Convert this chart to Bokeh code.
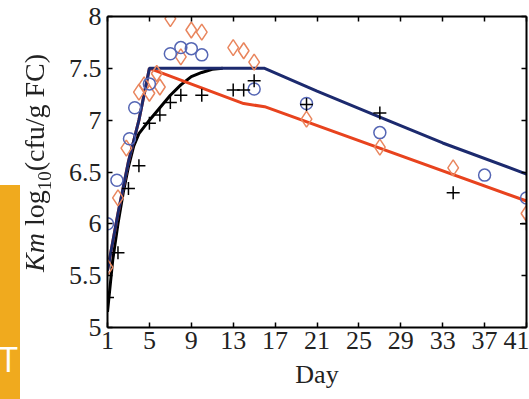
from bokeh.plotting import figure
from bokeh.models import LinearAxis, FixedTicker, Range1d, Div
from bokeh.layouts import row
from bokeh.embed import file_html
from bokeh.resources import INLINE

# ---- data ----
x_ticks = [1, 5, 9, 13, 17, 21, 25, 29, 33, 37, 41]
x_tick_labels = ["1", "5", "9", "13", "17", "21", "25", "29", "33", "37", "41"]
y_ticks = [5, 5.5, 6, 6.5, 7, 7.5, 8]
y_tick_labels = ["5", "5.5", "6", "6.5", "7", "7.5", "8"]

# observed: red diamonds
red_obs_day = [1, 2, 2.8, 4, 4.5, 5, 5.7, 6, 7, 8, 9, 10, 13, 14, 15, 20, 27, 34, 41]
red_obs_val = [5.58, 6.25, 6.73, 7.27, 7.34, 7.26, 7.45, 7.32, 7.98, 7.61, 7.87, 7.85,
               7.70, 7.67, 7.56, 7.01, 6.74, 6.54, 6.10]
# observed: blue circles
blue_obs_day = [1, 1.9, 3.1, 3.6, 5, 7, 8, 9, 10, 15, 20, 27, 37, 41]
blue_obs_val = [6.00, 6.42, 6.82, 7.12, 7.35, 7.64, 7.70, 7.69, 7.63, 7.30, 7.16, 6.88,
                6.47, 6.25]
# observed: black plus
black_obs_day = [1, 2, 3, 4, 5, 6, 7, 8, 10, 13, 14, 15, 20, 27, 34, 41]
black_obs_val = [5.29, 5.72, 6.34, 6.56, 6.97, 7.05, 7.17, 7.24, 7.24, 7.29, 7.29, 7.38,
                 7.15, 7.07, 6.30, 6.00]

# model curves
navy_day = [1, 2, 3, 4, 5, 16, 21, 27, 33, 41]
navy_val = [5.55, 6.10, 6.60, 7.00, 7.50, 7.50, 7.28, 7.03, 6.78, 6.48]
red_day = [1, 2, 3, 4, 5, 14, 16, 41]
red_val = [5.55, 6.10, 6.60, 7.00, 7.50, 7.16, 7.13, 6.22]
black_day = [1, 1.5, 2, 2.5, 3, 3.5, 4, 5, 6, 7, 8, 9, 10, 11, 12]
black_val = [5.15, 5.65, 6.00, 6.30, 6.55, 6.75, 6.87, 7.00, 7.12, 7.24, 7.34, 7.42,
             7.46, 7.49, 7.50]

SERIF = "Liberation Serif"
NAVY = "#1c2a6e"
RED = "#e8431e"
RED_MK = "#e9865e"
BLUE_MK = "#5566b4"
TXT = "#222222"

p = figure(width=509, height=399, x_range=Range1d(1, 41), y_range=Range1d(5, 8),
           output_backend="svg", toolbar_location=None,
           min_border_left=87, min_border_right=3, min_border_top=16, min_border_bottom=72)
p.grid.visible = False
p.outline_line_color = None
p.background_fill_color = "white"
p.border_fill_color = None

def style_axis(ax, show_labels):
    ax.axis_line_width = 2
    ax.axis_line_color = "black"
    ax.major_tick_in = 5
    ax.major_tick_out = 0
    ax.major_tick_line_width = 1.5
    ax.minor_tick_line_color = None
    ax.major_label_text_font = SERIF
    ax.major_label_text_color = TXT
    if not show_labels:
        ax.major_label_text_font_size = "0px"
        ax.major_label_text_color = None
        ax.major_label_standoff = 0

p.xaxis.ticker = FixedTicker(ticks=x_ticks)
p.xaxis.major_label_overrides = dict(zip(x_ticks, x_tick_labels))
p.yaxis.ticker = FixedTicker(ticks=y_ticks)
p.yaxis.major_label_overrides = dict(zip(y_ticks, y_tick_labels))
style_axis(p.xaxis[0], True)
style_axis(p.yaxis[0], True)
p.xaxis.major_label_text_font_size = "26px"
p.yaxis.major_label_text_font_size = "26px"
p.xaxis.major_label_standoff = 4
p.yaxis.major_label_standoff = 6
p.xaxis.axis_label = "Day"
p.xaxis.axis_label_text_font = SERIF
p.xaxis.axis_label_text_font_style = "normal"
p.xaxis.axis_label_text_font_size = "26px"
p.xaxis.axis_label_text_color = TXT
p.xaxis.axis_label_standoff = 8

top = LinearAxis(ticker=FixedTicker(ticks=x_ticks))
style_axis(top, False)
p.add_layout(top, "above")
right = LinearAxis(ticker=FixedTicker(ticks=y_ticks))
style_axis(right, False)
p.add_layout(right, "right")

# model lines
p.line(black_day, black_val, line_width=3, color="black")
p.line(red_day, red_val, line_width=3, color=RED)
p.line(navy_day, navy_val, line_width=3, color=NAVY)

# observations
p.scatter(red_obs_day, red_obs_val, marker="diamond", size=16, fill_color=None,
          line_color=RED_MK, line_width=1.5)
p.scatter(blue_obs_day, blue_obs_val, marker="circle", size=12, fill_color=None,
          line_color=BLUE_MK, line_width=1.5)
p.scatter(black_obs_day, black_obs_val, marker="cross", size=13, color="black",
          line_width=1.5)

# left strip (orange bar with "T") and the rotated y-axis title
ylabel_html = (
    '<div style="position:fixed;z-index:1000;left:21px;top:272px;transform:rotate(-90deg);'
    'transform-origin:left top;white-space:nowrap;font-family:\'Liberation Serif\',serif;'
    'font-size:28px;line-height:28px;color:%s;">'
    '<i>Km</i> log<span style="font-size:19px;position:relative;top:7px;">10</span>'
    '(cfu/g FC)</div>' % TXT
)
strip_html = (
    '<div style="position:fixed;z-index:1000;left:0;top:185px;width:20px;height:214px;'
    'background:#f0aa1e;overflow:hidden;">'
    '<span style="position:absolute;left:-1px;top:157px;color:#ffffff;'
    'font-family:\'Open Sans\',sans-serif;font-size:34px;line-height:1;">T</span></div>'
)
strip = Div(text=strip_html + ylabel_html, width=20, height=399, margin=0)

layout = row(strip, p)
open("out.html", "w").write(file_html(layout, INLINE))
